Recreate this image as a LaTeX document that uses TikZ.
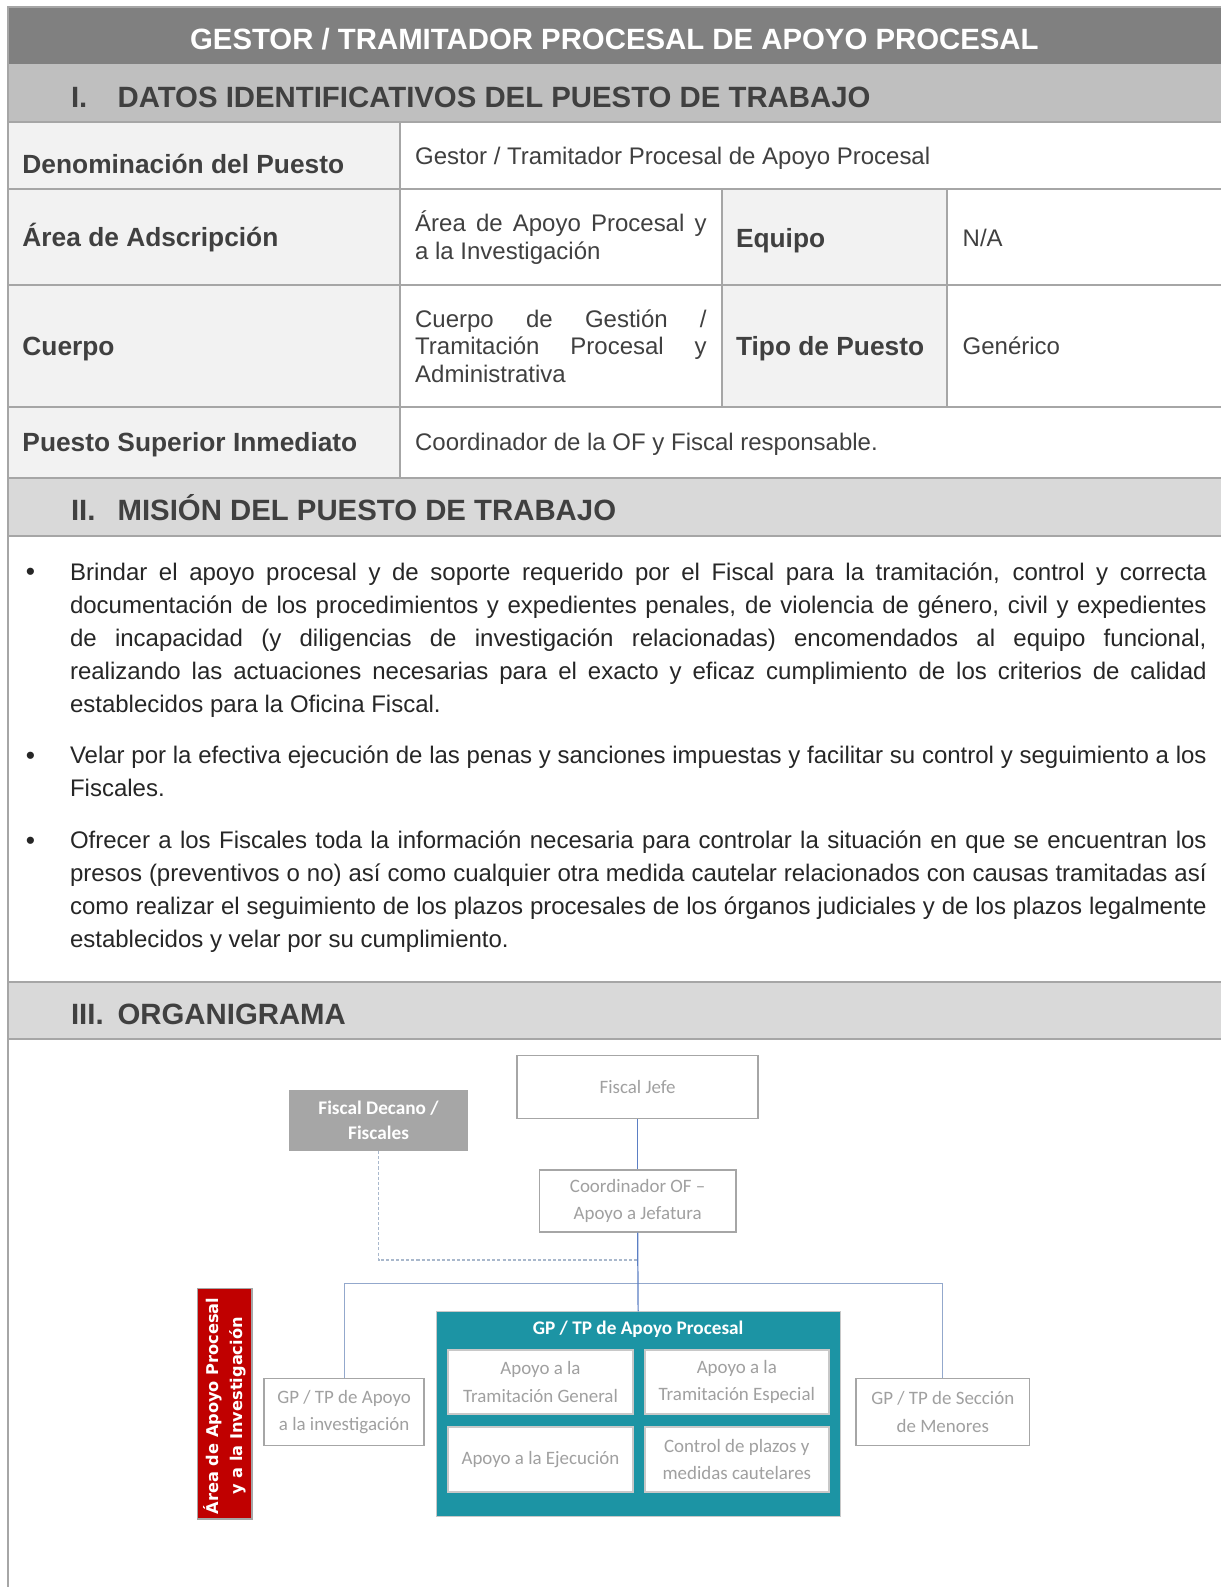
\documentclass[tikz,border=0pt]{standalone}
\usepackage{fontspec}
\setmainfont{Liberation Sans}
\newfontfamily\calfont{Carlito}
\newfontfamily\redfont{DejaVu Sans}
\definecolor{titlebar}{HTML}{808080}
\definecolor{secone}{HTML}{BFBFBF}
\definecolor{sectwo}{HTML}{D9D9D9}
\definecolor{labfill}{HTML}{F2F2F2}
\definecolor{gridc}{HTML}{A6A6A6}
\definecolor{hdrtxt}{HTML}{404040}
\definecolor{bodytxt}{HTML}{262626}
\definecolor{orgtxt}{HTML}{A0A0A0}
\definecolor{orgborder}{HTML}{A6A6A6}
\definecolor{innerborder}{HTML}{C8C8C8}
\definecolor{orgline}{HTML}{5B7FC4}
\definecolor{orglinelight}{HTML}{93A8CC}
\definecolor{dashc}{HTML}{A9B8CC}
\definecolor{tealc}{HTML}{1C94A4}
\definecolor{redc}{HTML}{C00000}
\definecolor{decanofill}{HTML}{A6A6A6}
\begin{document}
\begin{tikzpicture}[x=1pt,y=-1pt,
  gridline/.style={draw=gridc,line width=2pt},
  hdr/.style={anchor=base west,inner sep=0,font=\fontsize{29}{33}\selectfont\bfseries,text=hdrtxt},
  lab/.style={anchor=base west,inner sep=0,font=\fontsize{26}{30}\selectfont\bfseries,text=hdrtxt},
  val/.style={anchor=base west,inner sep=0,font=\fontsize{23.7}{27.5}\selectfont,text=hdrtxt},
  valpar/.style={anchor=west,inner sep=0,text width=288pt,align=justify,font=\fontsize{23.7}{27.3}\selectfont,text=hdrtxt},
  para/.style={anchor=north west,inner sep=0,text width=1123pt,align=justify,font=\fontsize{23.7}{32.7}\selectfont,text=bodytxt},
  bul/.style={anchor=base,inner sep=0,font=\fontsize{26}{30}\selectfont,text=bodytxt},
  orgbox/.style={draw=orgborder,line width=1.6pt,fill=white,text=orgtxt,font=\calfont\fontsize{18.7}{27}\selectfont,align=center,inner sep=0},
  innerbox/.style={draw=innerborder,line width=2pt,fill=white,text=orgtxt,font=\calfont\fontsize{18.7}{27}\selectfont,align=center,inner sep=0,minimum width=182pt,minimum height=63pt},
  conn/.style={draw=orgline,line width=1.2pt},
  lightconn/.style={draw=orglinelight,line width=1pt},
  dashconn/.style={draw=dashc,line width=1.2pt,dash pattern=on 3pt off 2pt}]
\def\rx{1206.4}
\def\by{1568}
\fill[white] (0,0) rectangle (\rx,\by);
% fills
\fill[titlebar] (8,7) rectangle (\rx,63);
\fill[secone] (8,63) rectangle (\rx,121);
\fill[labfill] (8,121) rectangle (395,472);
\fill[labfill] (713,187) rectangle (936,402);
\fill[sectwo] (8,472) rectangle (\rx,530);
\fill[sectwo] (8,970) rectangle (\rx,1027);
% grid
\draw[gridline] (8,7) -- (\rx,7);
\draw[gridline] (8,121) -- (\rx,121);
\draw[gridline] (8,187) -- (\rx,187);
\draw[gridline] (8,282) -- (\rx,282);
\draw[gridline] (8,402) -- (\rx,402);
\draw[gridline] (8,472) -- (\rx,472);
\draw[gridline] (8,530) -- (\rx,530);
\draw[gridline] (8,970) -- (\rx,970);
\draw[gridline] (8,1027) -- (\rx,1027);
\draw[gridline] (8,6) -- (8,\by);
\draw[gridline] (395,121) -- (395,472);
\draw[gridline] (713,187) -- (713,402);
\draw[gridline] (936,187) -- (936,402);
% title & headers
\node[inner sep=0,font=\fontsize{29}{33}\selectfont\bfseries,text=white] (title) at (607,39) {GESTOR / TRAMITADOR PROCESAL DE APOYO PROCESAL};
\node[hdr] (s1n) at (70,106.5) {I.};
\node[hdr] (s1) at (116,106.5) {DATOS IDENTIFICATIVOS DEL PUESTO DE TRABAJO};
\node[hdr] (s2n) at (70,514.5) {II.};
\node[hdr] (s2) at (116,514.5) {MISIÓN DEL PUESTO DE TRABAJO};
\node[hdr] (s3n) at (70,1012.5) {III.};
\node[hdr] (s3) at (116,1012.5) {ORGANIGRAMA};
% table
\node[lab] (l1) at (22,171.5) {Denominación del Puesto};
\node[val] (v1) at (410,162.5) {Gestor / Tramitador Procesal de Apoyo Procesal};
\node[lab] (l2) at (22,243.5) {Área de Adscripción};
\node[valpar] (v2) at (410,235) {Área de Apoyo Procesal y\linebreak a la Investigación};
\node[lab] (l2b) at (727,244.5) {Equipo};
\node[val] (v2b) at (951,243.5) {N/A};
\node[lab] (l3) at (22,351.5) {Cuerpo};
\node[valpar] (v3) at (410,342) {Cuerpo de Gestión /\linebreak Tramitación Procesal y\linebreak Administrativa};
\node[lab] (l3b) at (727,351.5) {Tipo de Puesto};
\node[val] (v3b) at (951,350.5) {Genérico};
\node[lab] (l4) at (22,446.5) {Puesto Superior Inmediato};
\node[val] (v4) at (410,445.5) {Coordinador de la OF y Fiscal responsable.};
% mission
\node[para] (p1) at (69,550) {\strut Brindar el apoyo procesal y de soporte requerido por el Fiscal para la tramitación, control y correcta\linebreak documentación de los procedimientos y expedientes penales, de violencia de género, civil y expedientes\linebreak de incapacidad (y diligencias de investigación relacionadas) encomendados al equipo funcional,\linebreak realizando las actuaciones necesarias para el exacto y eficaz cumplimiento de los criterios de calidad\linebreak establecidos para la Oficina Fiscal.};
\node[para] (p2) at (69,731) {\strut Velar por la efectiva ejecución de las penas y sanciones impuestas y facilitar su control y seguimiento a los\linebreak Fiscales.};
\node[para] (p3) at (69,815) {\strut Ofrecer a los Fiscales toda la información necesaria para controlar la situación en que se encuentran los\linebreak presos (preventivos o no) así como cualquier otra medida cautelar relacionados con causas tramitadas así\linebreak como realizar el seguimiento de los plazos procesales de los órganos judiciales y de los plazos legalmente\linebreak establecidos y velar por su cumplimiento.};
\node[bul] (b1) at (30,574) {•};
\node[bul] (b2) at (30,755) {•};
\node[bul] (b3) at (30,839) {•};
% organigram
\node[orgbox,minimum width=238pt,minimum height=62pt] (fj) at (630,1074) {Fiscal Jefe};
\node[draw=gridc,line width=1pt,fill=decanofill,text=white,font=\calfont\fontsize{19}{25}\selectfont\bfseries,align=center,inner sep=0,minimum width=176pt,minimum height=60pt] (fd) at (374,1107) {Fiscal Decano /\\Fiscales};
\node[orgbox,minimum width=194pt,minimum height=61pt] (co) at (630,1186.5) {Coordinador OF –\\Apoyo a Jefatura};
\node[fill=tealc,draw=innerborder,line width=0.8pt,minimum width=399pt,minimum height=202pt,inner sep=0] (teal) at (630.5,1397) {};
\node[inner sep=0,text=white,font=\calfont\fontsize{19}{24}\selectfont\bfseries] (tealt) at (630.5,1313) {GP / TP de Apoyo Procesal};
\node[innerbox] (tg) at (534,1365.5) {Apoyo a la\\Tramitación General};
\node[innerbox] (te) at (728,1365.5) {Apoyo a la\\Tramitación Especial};
\node[innerbox,minimum height=64pt] (ej) at (534,1442) {Apoyo a la Ejecución};
\node[innerbox,minimum height=64pt] (cp) at (728,1442) {Control de plazos y\\medidas cautelares};
\node[orgbox,minimum width=158pt,minimum height=66pt] (inv) at (340,1395) {GP / TP de Apoyo\\a la investigación};
\node[orgbox,minimum width=171pt,minimum height=66pt] (men) at (931.5,1395) {GP / TP de Sección\\de Menores};
\node[fill=redc,draw=gridc,line width=1.5pt,minimum width=54pt,minimum height=228pt,inner sep=0] (red) at (222,1387) {};
\node[rotate=90,inner sep=0,text=white,font=\redfont\fontsize{16}{24}\selectfont\bfseries,align=center] (redt) at (222,1389) {Área de Apoyo Procesal\\y a la Investigación};
\coordinate (dj) at (630,1245);
\coordinate (hl) at (630,1268);
\draw[lightconn] (inv.north) |- (hl) -| (men.north);
\draw[conn] (fj.south) -- (co.north);
\draw[conn] (co.south) -- (teal.north);
\draw[dashconn] (fd.south) |- (dj);
\pgfresetboundingbox
\useasboundingbox (0,0) rectangle (\rx,\by);
\end{tikzpicture}
\end{document}
